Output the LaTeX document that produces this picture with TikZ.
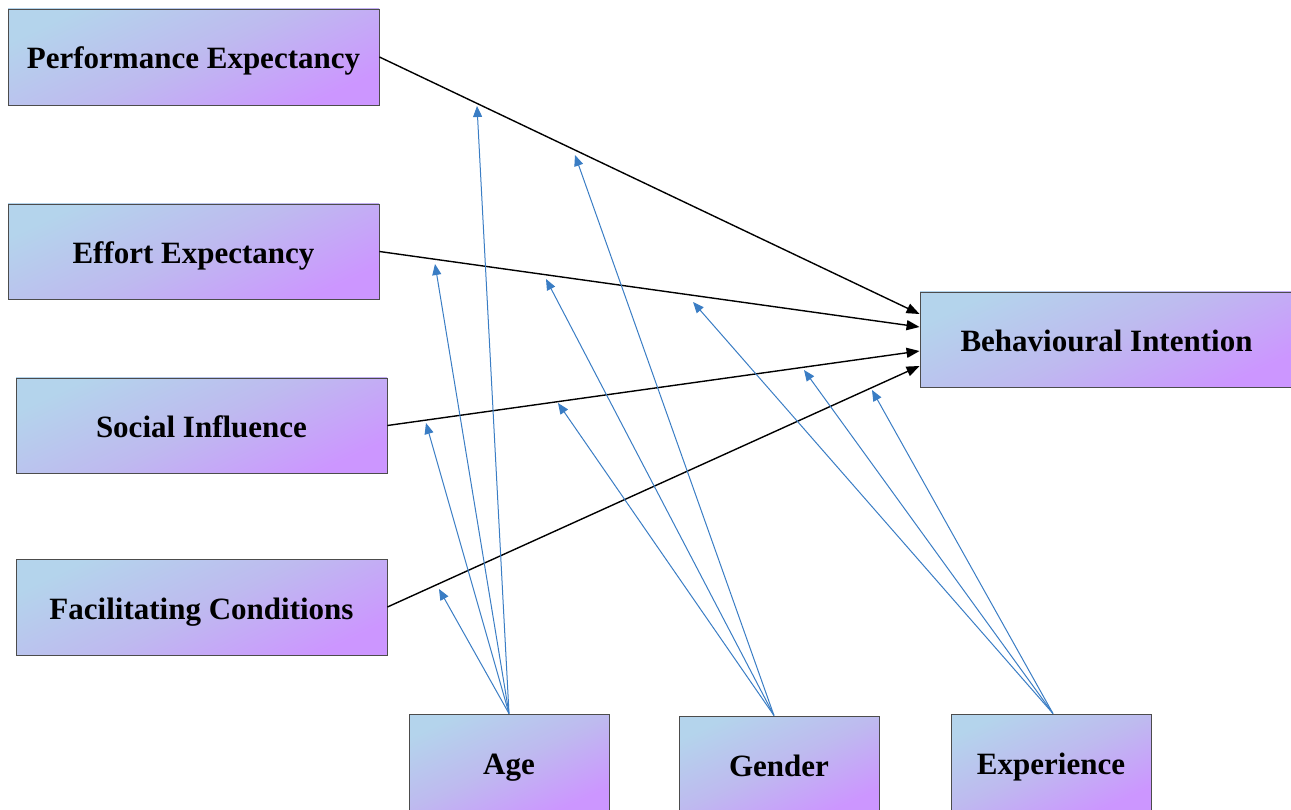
\documentclass[tikz,border=0pt]{standalone}
\usepackage{fontspec}
\setmainfont{Liberation Serif}
\usetikzlibrary{arrows.meta}
\definecolor{boxA}{HTML}{B4D4EC}
\definecolor{boxB}{HTML}{BEBAEF}
\definecolor{boxC}{HTML}{CC96FF}
\definecolor{bluearr}{HTML}{3A7DC4}
\tikzset{
  box/.style={draw=black!70, line width=0.9pt, inner sep=0pt,
    top color=boxA, bottom color=boxC, middle color=boxB, shading angle=25,
    font=\fontsize{31}{34}\selectfont\bfseries, text height=24pt, text depth=0pt},
  widebox/.style={box, minimum width=371pt, minimum height=96pt},
  smallbox/.style={box, minimum width=200pt, minimum height=96pt},
  mainarrow/.style={draw=black, line width=1.4pt, -{Triangle[length=13pt,width=10pt]}},
  modarrow/.style={draw=bluearr, line width=1pt, -{Triangle[length=11pt,width=9pt]}}
}
\begin{document}
\begin{tikzpicture}[x=1pt,y=-1pt]
\useasboundingbox (0,0) rectangle (1291,810);
\clip (0,0) rectangle (1291,810);
\node[widebox] (PE) at (193.5,57) {Performance Expectancy};
\node[widebox, minimum height=95pt] (EE) at (193.5,251.5) {Effort Expectancy};
\node[widebox, minimum height=95pt] (SI) at (201.5,425.5) {Social Influence};
\node[widebox] (FC) at (201.5,607) {Facilitating Conditions};
\node[widebox, minimum width=373pt, minimum height=95pt] (BI) at (1106.5,339.5) {Behavioural Intention};
\node[smallbox] (AG) at (509,762) {Age};
\node[smallbox] (GE) at (779,764) {Gender};
\node[smallbox] (EX) at (1051,762) {Experience};

\draw[mainarrow] (PE.east) -- (BI.west |- 0,314);
\draw[mainarrow] (EE.east) -- (BI.west |- 0,327);
\draw[mainarrow] (SI.east) -- (BI.west |- 0,351);
\draw[mainarrow] (FC.east) -- (BI.west |- 0,366);

\coordinate (a1) at (477,106);
\coordinate (a2) at (435,264);
\coordinate (a3) at (426,423);
\coordinate (a4) at (439,589);
\coordinate (g1) at (575,155);
\coordinate (g2) at (546,279);
\coordinate (g3) at (558,403);
\coordinate (e1) at (693,302);
\coordinate (e2) at (804,370);
\coordinate (e3) at (872,390);

\foreach \t in {a1,a2,a3,a4}
  \draw[modarrow] (AG.north) -- (\t);
\foreach \t in {g1,g2,g3}
  \draw[modarrow] ([xshift=-5pt]GE.north) -- (\t);
\foreach \t in {e1,e2,e3}
  \draw[modarrow] ([xshift=2pt]EX.north) -- (\t);
\end{tikzpicture}
\end{document}
